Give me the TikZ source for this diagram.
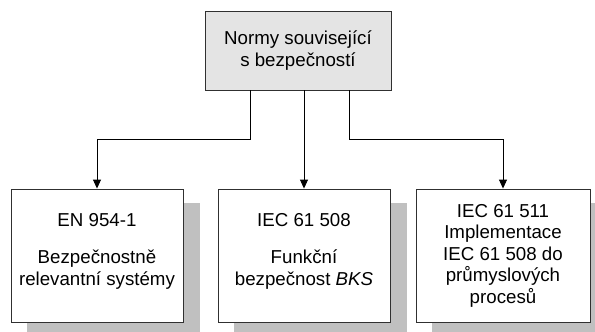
\documentclass[tikz,border=0pt]{standalone}
\usepackage{fontspec}
\setmainfont{Liberation Sans}
\usetikzlibrary{arrows.meta,calc,backgrounds}
\definecolor{boxgray}{HTML}{E4E4E4}
\definecolor{shadowgray}{HTML}{C0C0C0}
\definecolor{edgegray}{HTML}{303030}
\tikzset{
  box/.style={draw=edgegray, line width=0.9pt, fill=white, rectangle,
    minimum width=172pt, minimum height=133pt, inner sep=0pt},
  topbox/.style={draw=edgegray, line width=0.9pt, fill=boxgray, rectangle,
    minimum width=186pt, minimum height=78.5pt, inner sep=0pt},
  txt/.style={align=center, inner sep=0pt, anchor=north,
    font=\fontsize{18.7}{21.6}\selectfont},
  conn/.style={line width=0.9pt, -{Triangle[length=9pt,width=8pt]}},
  link/.style={line width=0.9pt},
  boxshadow/.style={fill=shadowgray},
}
\begin{document}
\begin{tikzpicture}[x=1pt,y=-1pt]
  \useasboundingbox (0,0) rectangle (595,332);
  \clip (0,0) rectangle (595,332);

  % header box
  \node[topbox] (top) at (298,50.75) {};
  \node[txt] (toptext) at ([yshift=-19.5pt]top.north)
    {Normy související\\s bezpečností};

  % the three standards
  \node[box] (b1) at (97,255.5) {};
  \node[box, minimum width=172pt] (b2) at (304,255.5) {};
  \node[box, minimum width=174pt] (b3) at (503,255.5) {};

  % drop shadows behind the standard boxes
  \begin{scope}[on background layer]
    \foreach \b in {b1,b2,b3}
      \fill[boxshadow] ([shift={(16.5,14)}]\b.north west)
        rectangle ([shift={(16.5,14)}]\b.south east);
  \end{scope}

  \node[txt] (b1text) at ([yshift=-25.1pt]b1.north)
    {EN 954-1\\[15.4pt]Bezpečnostně\\relevantní systémy};
  \node[txt] (b2text) at ([yshift=-24.8pt]b2.north)
    {IEC 61 508\\[15.4pt]Funkční\\bezpečnost \textit{BKS}};
  \node[txt] (b3text) at ([yshift=-15.3pt]b3.north)
    {IEC 61 511\\Implementace\\IEC 61 508 do\\průmyslových\\procesů};

  % branching connectors
  \coordinate (j1) at (250.7,139.3);
  \coordinate (j3) at (349.3,139.3);
  \draw[link] (top.south -| j1) -- (j1);
  \draw[conn] (j1) -| (b1.north);
  \draw[conn] (top.south -| b2.north) -- (b2.north);
  \draw[link] (top.south -| j3) -- (j3);
  \draw[conn] (j3) -| (b3.north);
\end{tikzpicture}
\end{document}
